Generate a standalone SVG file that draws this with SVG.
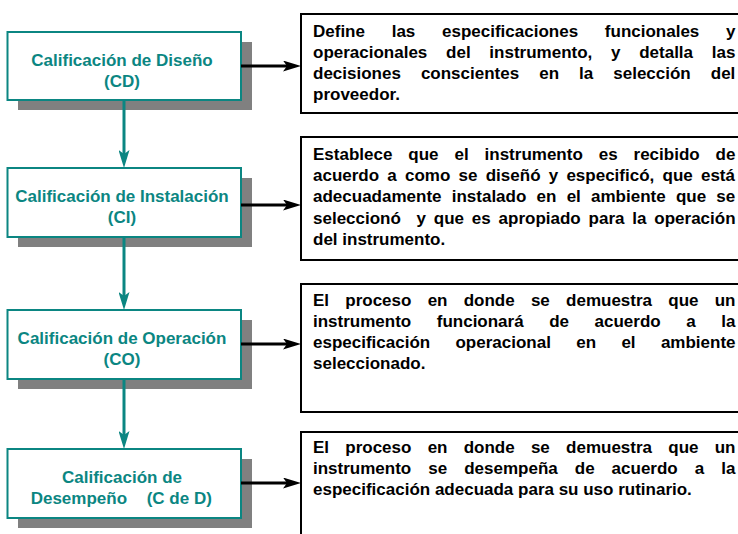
<svg xmlns="http://www.w3.org/2000/svg" width="738" height="534" viewBox="0 0 738 534">
  <defs>
    <style>
      .shadow { fill: #808080; }
      .stage { fill: #ffffff; stroke: #0b8682; stroke-width: 2; }
      .stage-text { font-family: "Liberation Sans", Arial, sans-serif; font-weight: bold; font-size: 17px; fill: #0b8682; text-anchor: middle; }
      .stage-text-left { font-family: "Liberation Sans", Arial, sans-serif; font-weight: bold; font-size: 17px; fill: #0b8682; }
      .desc { fill: #ffffff; stroke: #000000; stroke-width: 2; }
      .desc-text { font-family: "Liberation Sans", Arial, sans-serif; font-weight: bold; font-size: 17px; fill: #000000; }
      .flow { stroke: #0b8682; stroke-width: 3; fill: none; }
      .link { stroke: #000000; stroke-width: 3; fill: none; }
    </style>
    <marker id="arrow-black" markerUnits="userSpaceOnUse" viewBox="0 0 18 11" markerWidth="18" markerHeight="11" refX="7" refY="5.5" orient="auto">
      <path d="M0,0 L18,5.5 L0,11 L4,5.5 Z" fill="#000000"/>
    </marker>
    <marker id="arrow-teal" markerUnits="userSpaceOnUse" viewBox="0 0 18 11" markerWidth="18" markerHeight="11" refX="7" refY="5.5" orient="auto">
      <path d="M0,0 L18,5.5 L0,11 L4,5.5 Z" fill="#0b8682"/>
    </marker>
  </defs>

  <rect width="738" height="534" fill="#ffffff"/>

  <!-- Stage nodes -->
  <g id="node-cd">
    <rect class="shadow" x="18" y="42" width="234" height="68"/>
    <rect class="stage" x="7.5" y="32" width="233.5" height="68"/>
    <text class="stage-text" x="122" y="65.5">Calificación de Diseño</text>
    <text class="stage-text" x="122" y="86.5">(CD)</text>
  </g>

  <g id="node-ci">
    <rect class="shadow" x="18" y="178" width="234" height="69"/>
    <rect class="stage" x="7.5" y="168" width="233.5" height="69"/>
    <text class="stage-text" x="122" y="201.7">Calificación de Instalación</text>
    <text class="stage-text" x="122" y="222.7">(CI)</text>
  </g>

  <g id="node-co">
    <rect class="shadow" x="18" y="320" width="234" height="69"/>
    <rect class="stage" x="7.5" y="310" width="233.5" height="69"/>
    <text class="stage-text" x="122" y="344">Calificación de Operación</text>
    <text class="stage-text" x="122" y="365">(CO)</text>
  </g>

  <g id="node-cdd">
    <rect class="shadow" x="18" y="459" width="234" height="69"/>
    <rect class="stage" x="7.5" y="449" width="233.5" height="69"/>
    <text class="stage-text" x="122" y="482.5">Calificación de</text>
    <text class="stage-text-left" y="503.5"><tspan x="30.7">Desempeño</tspan><tspan x="146.7">(C de D)</tspan></text>
  </g>

  <!-- Description nodes -->
  <g id="desc-cd">
    <rect class="desc" x="301" y="14" width="445" height="99"/>
    <text class="desc-text" x="313" y="36.5" word-spacing="22">Define las especificaciones funcionales y</text>
    <text class="desc-text" x="313" y="57.7" word-spacing="14">operacionales del instrumento, y detalla las</text>
    <text class="desc-text" x="313" y="78.9" word-spacing="15.3">decisiones conscientes en la selección del</text>
    <text class="desc-text" x="313" y="100.1">proveedor.</text>
  </g>

  <g id="desc-ci">
    <rect class="desc" x="301" y="137" width="445" height="123"/>
    <text class="desc-text" x="313" y="160" word-spacing="11.2">Establece que el instrumento es recibido de</text>
    <text class="desc-text" x="313" y="181.2" word-spacing="3.5">acuerdo a como se diseñó y especificó, que está</text>
    <text class="desc-text" x="313" y="202.4" word-spacing="5.5">adecuadamente instalado en el ambiente que se</text>
    <text class="desc-text" x="313" y="223.6" word-spacing="3.1" xml:space="preserve">seleccionó  y que es apropiado para la operación</text>
    <text class="desc-text" x="313" y="244.8">del instrumento.</text>
  </g>

  <g id="desc-co">
    <rect class="desc" x="301" y="284" width="445" height="128"/>
    <text class="desc-text" x="313" y="305.5" word-spacing="11.5">El proceso en donde se demuestra que un</text>
    <text class="desc-text" x="313" y="326.7" word-spacing="20.8">instrumento funcionará de acuerdo a la</text>
    <text class="desc-text" x="313" y="347.9" word-spacing="20.6">especificación operacional en el ambiente</text>
    <text class="desc-text" x="313" y="369.1">seleccionado.</text>
  </g>

  <g id="desc-cdd">
    <rect class="desc" x="301" y="432" width="445" height="120"/>
    <text class="desc-text" x="313" y="453" word-spacing="11.5">El proceso en donde se demuestra que un</text>
    <text class="desc-text" x="313" y="474.2" word-spacing="12.3">instrumento se desempeña de acuerdo a la</text>
    <text class="desc-text" x="313" y="495.4">especificación adecuada para su uso rutinario.</text>
  </g>

  <!-- Connectors -->
  <g id="connectors">
    <path class="flow" d="M124,100 V157" marker-end="url(#arrow-teal)"/>
    <path class="flow" d="M124,237 V299" marker-end="url(#arrow-teal)"/>
    <path class="flow" d="M124,379 V438" marker-end="url(#arrow-teal)"/>
    <path class="link" d="M241,66 H290" marker-end="url(#arrow-black)"/>
    <path class="link" d="M241,205 H290" marker-end="url(#arrow-black)"/>
    <path class="link" d="M241,344 H290" marker-end="url(#arrow-black)"/>
    <path class="link" d="M241,483 H290" marker-end="url(#arrow-black)"/>
  </g>
</svg>
